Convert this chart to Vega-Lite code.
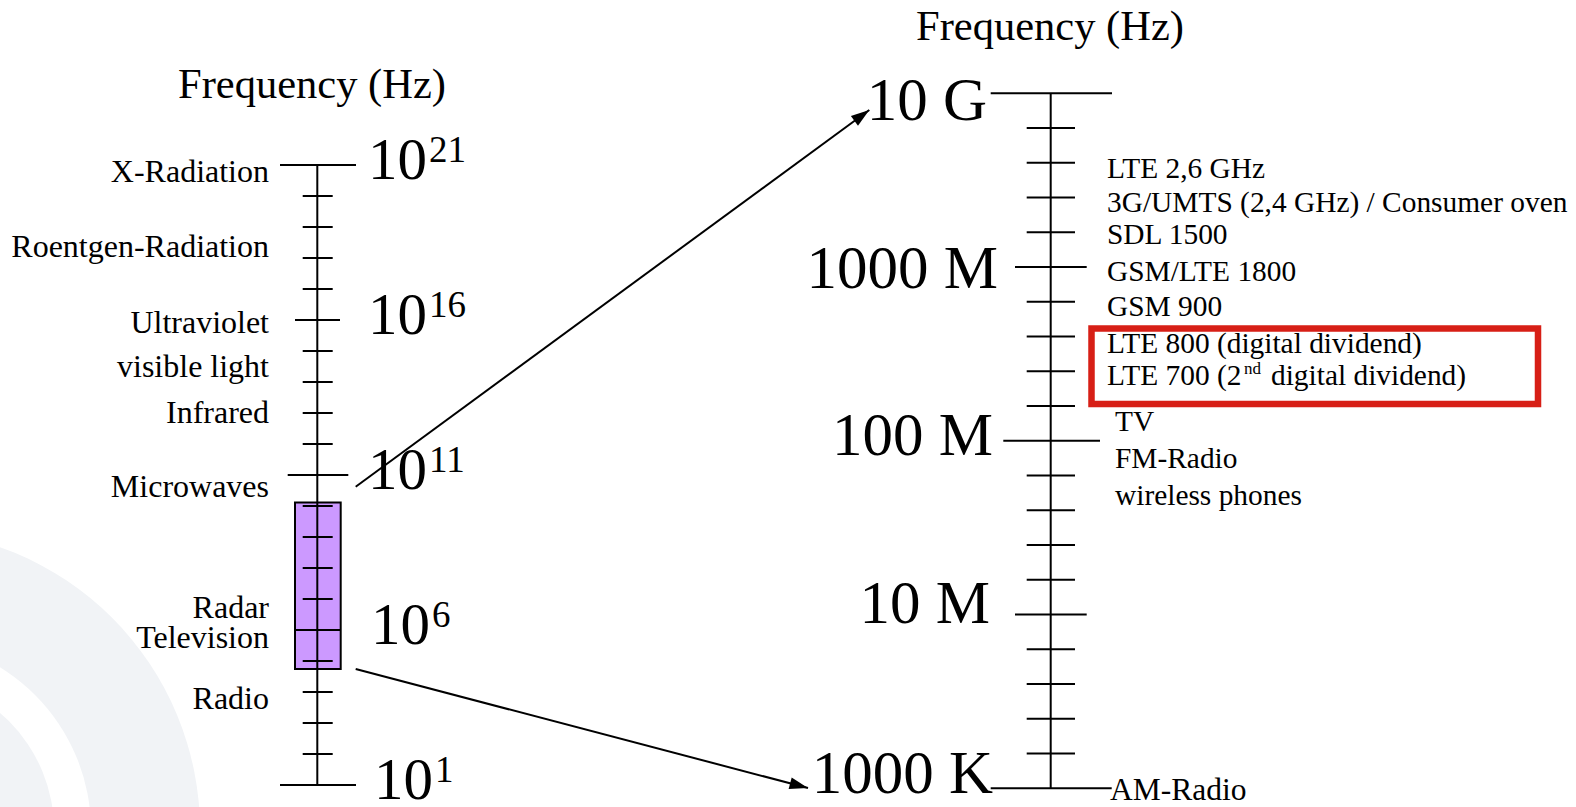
{
  "$schema": "https://vega.github.io/schema/vega-lite/v6.json",
  "width": 1576,
  "height": 807,
  "autosize": "none",
  "padding": 0,
  "background": "white",
  "config": {"view": {"stroke": null}},
  "datasets": {
    "bg": [
      {"x": -100, "v": -0.4516, "ring": "outer"},
      {"x": -100, "v": -0.4516, "ring": "middle"},
      {"x": -100, "v": -0.4516, "ring": "inner"}
    ],
    "lbox": [{"x": 295, "x2": 340.7, "v": 4.742, "v2": 10.113}],
    "lspine": [{"x": 317.3, "v": 1, "v2": 21}],
    "lticks": [
      {"v": 21, "x": 280, "x2": 356},
      {"v": 20, "x": 302.7, "x2": 332.7},
      {"v": 19, "x": 302.7, "x2": 332.7},
      {"v": 18, "x": 302.7, "x2": 332.7},
      {"v": 17, "x": 302.7, "x2": 332.7},
      {"v": 16, "x": 295, "x2": 340},
      {"v": 15, "x": 302.7, "x2": 332.7},
      {"v": 14, "x": 302.7, "x2": 332.7},
      {"v": 13, "x": 302.7, "x2": 332.7},
      {"v": 12, "x": 302.7, "x2": 332.7},
      {"v": 11, "x": 287.7, "x2": 348.3},
      {"v": 10, "x": 302.7, "x2": 332.7},
      {"v": 9, "x": 302.7, "x2": 332.7},
      {"v": 8, "x": 302.7, "x2": 332.7},
      {"v": 7, "x": 302.7, "x2": 332.7},
      {"v": 6, "x": 295, "x2": 340.7},
      {"v": 5, "x": 302.7, "x2": 332.7},
      {"v": 4, "x": 302.7, "x2": 332.7},
      {"v": 3, "x": 302.7, "x2": 332.7},
      {"v": 2, "x": 302.7, "x2": 332.7},
      {"v": 1, "x": 280, "x2": 356}
    ],
    "lbig": [
      {"v": 21, "x": 427, "t": "10", "sup": "21"},
      {"v": 16, "x": 427, "t": "10", "sup": "16"},
      {"v": 11, "x": 427, "t": "10", "sup": "11"},
      {"v": 6, "x": 430, "t": "10", "sup": "6"},
      {"v": 1, "x": 433, "t": "10", "sup": "1"}
    ],
    "llabels": [
      {"v": 20.461, "x": 269, "t": "X-Radiation"},
      {"v": 18.042, "x": 269, "t": "Roentgen-Radiation"},
      {"v": 15.571, "x": 269, "t": "Ultraviolet"},
      {"v": 14.171, "x": 269, "t": "visible light"},
      {"v": 12.668, "x": 269, "t": "Infrared"},
      {"v": 10.3, "x": 269, "t": "Microwaves"},
      {"v": 6.377, "x": 269, "t": "Radar"},
      {"v": 5.41, "x": 269, "t": "Television"},
      {"v": 3.442, "x": 269, "t": "Radio"}
    ],
    "ltitle": [{"v": 23.171, "x": 312, "t": "Frequency (Hz)"}],
    "arrows": [
      {"dir": "up", "x": 355.7, "v": 10.623, "x2": 869.3, "v2": 22.774},
      {"dir": "down", "x": 355.7, "v": 4.742, "x2": 808, "v2": 0.903}
    ],
    "rspine": [{"x": 1050.7, "v": 6, "v2": 10}],
    "rticks": [
      {"v": 10, "x": 990.7, "x2": 1112},
      {"v": 9.8, "x": 1026.7, "x2": 1075},
      {"v": 9.6, "x": 1026.7, "x2": 1075},
      {"v": 9.4, "x": 1026.7, "x2": 1075},
      {"v": 9.2, "x": 1026.7, "x2": 1075},
      {"v": 9, "x": 1015, "x2": 1086.7},
      {"v": 8.8, "x": 1026.7, "x2": 1075},
      {"v": 8.6, "x": 1026.7, "x2": 1075},
      {"v": 8.4, "x": 1026.7, "x2": 1075},
      {"v": 8.2, "x": 1026.7, "x2": 1075},
      {"v": 8, "x": 1003.3, "x2": 1100},
      {"v": 7.8, "x": 1026.7, "x2": 1075},
      {"v": 7.6, "x": 1026.7, "x2": 1075},
      {"v": 7.4, "x": 1026.7, "x2": 1075},
      {"v": 7.2, "x": 1026.7, "x2": 1075},
      {"v": 7, "x": 1015, "x2": 1086.7},
      {"v": 6.8, "x": 1026.7, "x2": 1075},
      {"v": 6.6, "x": 1026.7, "x2": 1075},
      {"v": 6.4, "x": 1026.7, "x2": 1075},
      {"v": 6.2, "x": 1026.7, "x2": 1075},
      {"v": 6, "x": 990.7, "x2": 1111.7}
    ],
    "rbig": [
      {"v": 9.846, "x": 987, "t": "10 G"},
      {"v": 8.878, "x": 998, "t": "1000 M"},
      {"v": 7.918, "x": 993, "t": "100 M"},
      {"v": 6.951, "x": 990, "t": "10 M"},
      {"v": 5.973, "x": 993, "t": "1000 K"}
    ],
    "rlabels": [
      {"v": 9.513, "x": 1107, "t": "LTE 2,6 GHz"},
      {"v": 9.317, "x": 1107, "t": "3G/UMTS (2,4 GHz) / Consumer oven"},
      {"v": 9.133, "x": 1107, "t": "SDL 1500"},
      {"v": 8.92, "x": 1107, "t": "GSM/LTE 1800"},
      {"v": 8.718, "x": 1107, "t": "GSM 900"},
      {"v": 8.505, "x": 1107, "t": "LTE 800 (digital dividend)"},
      {"v": 8.321, "x": 1107, "t": "LTE 700 (2"},
      {"v": 8.321, "x": 1271, "t": "digital dividend)"},
      {"v": 8.056, "x": 1115, "t": "TV"},
      {"v": 7.843, "x": 1115, "t": "FM-Radio"},
      {"v": 7.631, "x": 1115, "t": "wireless phones"}
    ],
    "ramradio": [{"v": 5.933, "x": 1110, "t": "AM-Radio"}],
    "rsup": [{"v": 8.384, "x": 1244, "t": "nd"}],
    "rtitle": [{"v": 10.307, "x": 1050, "t": "Frequency (Hz)"}],
    "redbox": [{"x": 1091.5, "x2": 1538, "v": 8.646, "v2": 8.212}]
  },
  "layer": [
    {
      "encoding": {
        "x": {"field": "x", "type": "quantitative", "scale": {"domain": [0, 1576], "nice": false, "zero": false}, "axis": null},
        "y": {"field": "v", "type": "quantitative", "scale": {"domain": [0.2903, 26.3226], "nice": false, "zero": false}, "axis": null}
      },
      "layer": [
        {
          "data": {"name": "bg"},
          "transform": [{"filter": "datum.ring == 'outer'"}],
          "mark": {"type": "point", "shape": "circle", "filled": true, "size": 360000, "color": "#f1f3f6", "opacity": 1, "clip": true}
        },
        {
          "data": {"name": "bg"},
          "transform": [{"filter": "datum.ring == 'middle'"}],
          "mark": {"type": "point", "shape": "circle", "filled": true, "size": 145924, "color": "#ffffff", "opacity": 1, "clip": true}
        },
        {
          "data": {"name": "bg"},
          "transform": [{"filter": "datum.ring == 'inner'"}],
          "mark": {"type": "point", "shape": "circle", "filled": true, "size": 94864, "color": "#f1f3f6", "opacity": 1, "clip": true}
        },
        {
          "data": {"name": "lbox"},
          "mark": {"type": "rect", "fill": "#cc99ff", "stroke": "black", "strokeWidth": 2},
          "encoding": {"x2": {"field": "x2"}, "y2": {"field": "v2"}}
        },
        {
          "data": {"name": "lspine"},
          "mark": {"type": "rule", "color": "black", "strokeWidth": 2},
          "encoding": {"y2": {"field": "v2"}}
        },
        {
          "data": {"name": "lticks"},
          "mark": {"type": "rule", "color": "black", "strokeWidth": 2},
          "encoding": {"x2": {"field": "x2"}}
        },
        {
          "data": {"name": "lbig"},
          "mark": {"type": "text", "align": "right", "baseline": "alphabetic", "dy": 14, "font": "Liberation Serif", "fontSize": 59, "color": "black"},
          "encoding": {"text": {"field": "t"}}
        },
        {
          "data": {"name": "lbig"},
          "mark": {"type": "text", "align": "left", "baseline": "alphabetic", "dx": 2, "dy": -3, "font": "Liberation Serif", "fontSize": 37, "color": "black"},
          "encoding": {"text": {"field": "sup"}}
        },
        {
          "data": {"name": "llabels"},
          "mark": {"type": "text", "align": "right", "baseline": "alphabetic", "font": "Liberation Serif", "fontSize": 32, "color": "black"},
          "encoding": {"text": {"field": "t"}}
        },
        {
          "data": {"name": "ltitle"},
          "mark": {"type": "text", "align": "center", "baseline": "alphabetic", "font": "Liberation Serif", "fontSize": 42.5, "color": "black"},
          "encoding": {"text": {"field": "t"}}
        },
        {
          "data": {"name": "arrows"},
          "mark": {"type": "rule", "color": "black", "strokeWidth": 2},
          "encoding": {"x2": {"field": "x2"}, "y2": {"field": "v2"}}
        },
        {
          "data": {"name": "arrows"},
          "transform": [{"filter": "datum.dir == 'up'"}],
          "mark": {"type": "point", "shape": "M0,0L0.65,2L-0.65,2Z", "filled": true, "size": 340, "angle": 53.7, "color": "black", "opacity": 1},
          "encoding": {"x": {"field": "x2", "type": "quantitative"}, "y": {"field": "v2", "type": "quantitative"}}
        },
        {
          "data": {"name": "arrows"},
          "transform": [{"filter": "datum.dir == 'down'"}],
          "mark": {"type": "point", "shape": "M0,0L0.65,2L-0.65,2Z", "filled": true, "size": 340, "angle": 104.7, "color": "black", "opacity": 1},
          "encoding": {"x": {"field": "x2", "type": "quantitative"}, "y": {"field": "v2", "type": "quantitative"}}
        }
      ]
    },
    {
      "encoding": {
        "x": {"field": "x", "type": "quantitative", "scale": {"domain": [0, 1576], "nice": false, "zero": false}, "axis": null},
        "y": {"field": "v", "type": "quantitative", "scale": {"domain": [5.892, 10.537], "nice": false, "zero": false}, "axis": null}
      },
      "layer": [
        {
          "data": {"name": "rspine"},
          "mark": {"type": "rule", "color": "black", "strokeWidth": 2},
          "encoding": {"y2": {"field": "v2"}}
        },
        {
          "data": {"name": "rticks"},
          "mark": {"type": "rule", "color": "black", "strokeWidth": 2},
          "encoding": {"x2": {"field": "x2"}}
        },
        {
          "data": {"name": "redbox"},
          "mark": {"type": "rect", "fill": null, "filled": false, "stroke": "#d71f16", "strokeWidth": 6.5},
          "encoding": {"x2": {"field": "x2"}, "y2": {"field": "v2"}}
        },
        {
          "data": {"name": "rbig"},
          "mark": {"type": "text", "align": "right", "baseline": "alphabetic", "font": "Liberation Serif", "fontSize": 61, "color": "black"},
          "encoding": {"text": {"field": "t"}}
        },
        {
          "data": {"name": "rlabels"},
          "mark": {"type": "text", "align": "left", "baseline": "alphabetic", "font": "Liberation Serif", "fontSize": 29.4, "color": "black"},
          "encoding": {"text": {"field": "t"}}
        },
        {
          "data": {"name": "ramradio"},
          "mark": {"type": "text", "align": "left", "baseline": "alphabetic", "font": "Liberation Serif", "fontSize": 31.5, "color": "black"},
          "encoding": {"text": {"field": "t"}}
        },
        {
          "data": {"name": "rsup"},
          "mark": {"type": "text", "align": "left", "baseline": "alphabetic", "font": "Liberation Serif", "fontSize": 17, "color": "black"},
          "encoding": {"text": {"field": "t"}}
        },
        {
          "data": {"name": "rtitle"},
          "mark": {"type": "text", "align": "center", "baseline": "alphabetic", "font": "Liberation Serif", "fontSize": 42.5, "color": "black"},
          "encoding": {"text": {"field": "t"}}
        }
      ]
    }
  ],
  "resolve": {"scale": {"y": "independent"}}
}
